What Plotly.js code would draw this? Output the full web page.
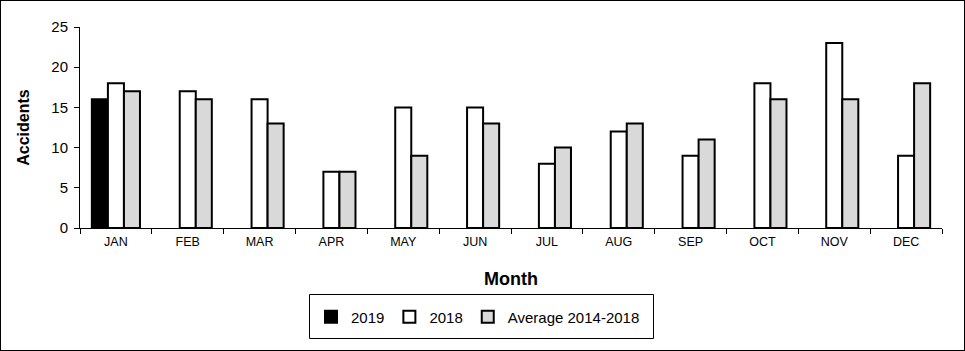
<!DOCTYPE html>
<html><head><meta charset="utf-8">
<script src="https://cdn.plot.ly/plotly-3.0.1.min.js"></script>
<style>
html,body{margin:0;padding:0;background:#fff;}
#chart{width:963px;height:349px;border:1px solid #000;}
</style></head>
<body><div id="chart"></div>
<script>
const months = ["JAN","FEB","MAR","APR","MAY","JUN","JUL","AUG","SEP","OCT","NOV","DEC"];
const y2019 = [16,null,null,null,null,null,null,null,null,null,null,null];
const y2018 = [18,17,16,7,15,15,8,12,9,18,23,9];
const avg1418 = [17,16,13,7,9,13,10,13,11,16,16,18];
const yTicks = [0,5,10,15,20,25];

const W = 963, H = 349;
const m = {l:79, r:22, t:26, b:122};
const pw = W - m.l - m.r, ph = H - m.t - m.b;
const px = v => (v - 1 - m.l) / pw;
const py = v => (H - m.b - (v - 1)) / ph;

const mk = (name, y, color) => ({
  type:'bar', name:name, x:months, y:y,
  marker:{color:color, line:{color:'#000', width:2}}
});
const data = [
  mk('2019', y2019, '#000000'),
  mk('2018', y2018, '#ffffff'),
  mk('Average 2014-2018', avg1418, '#d9d9d9')
];
const fam = '"Liberation Sans", Arial, sans-serif';
const layout = {
  width:W, height:H, margin:m,
  paper_bgcolor:'#fff', plot_bgcolor:'#fff',
  barmode:'group', bargap:0.33, bargroupgap:0,
  font:{family:fam, color:'#000'},
  showlegend:true,
  xaxis:{
    type:'category', showline:true, linecolor:'#000', linewidth:1,
    ticks:'outside', tickson:'boundaries', ticklen:5, tickcolor:'#000',
    ticklabelstandoff:2,
    tickfont:{size:12.5, family:fam, color:'#000'},
    showgrid:false, zeroline:false,
    title:{text:'<b>Month</b>', font:{size:18, family:fam, color:'#000'}, standoff:24}
  },
  yaxis:{
    range:[0,25], tickvals:yTicks, showline:true, linecolor:'#000', linewidth:1,
    ticks:'outside', ticklen:5, tickcolor:'#000',
    ticklabelstandoff:3,
    tickfont:{size:15, family:fam, color:'#000'},
    showgrid:false, zeroline:false,
    title:{text:'<b>Accidents</b>', font:{size:16, family:fam, color:'#000'}, standoff:17}
  },
  legend:{
    orientation:'h', x:px(478), xanchor:'center', y:py(317), yanchor:'middle',
    font:{size:15, family:fam, color:'#000'},
    bgcolor:'rgba(0,0,0,0)', borderwidth:0, itemwidth:30
  },
  shapes:[{
    type:'rect', xref:'paper', yref:'paper',
    x0:px(309.5), x1:px(653.5), y0:py(294.5), y1:py(338.5),
    line:{color:'#000', width:1}, fillcolor:'rgba(0,0,0,0)'
  }]
};
Plotly.newPlot('chart', data, layout, {displayModeBar:false, staticPlot:true});
</script></body></html>
